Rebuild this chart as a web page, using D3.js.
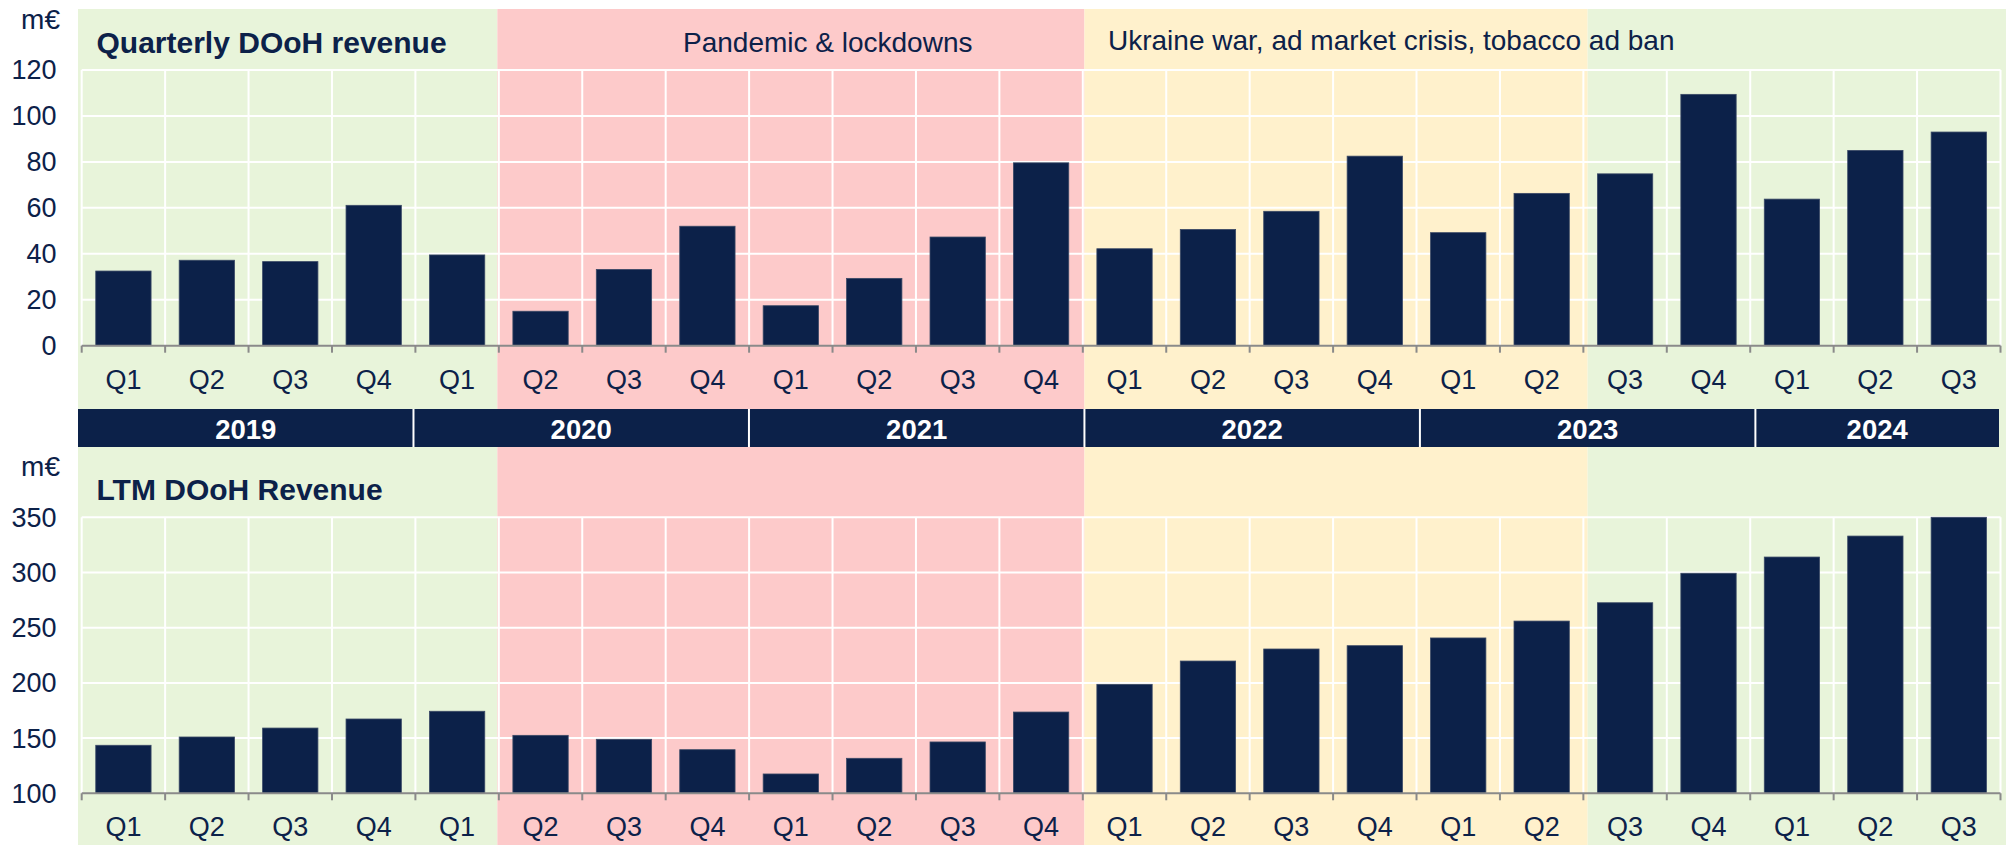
<!DOCTYPE html>
<html>
<head>
<meta charset="utf-8">
<script src="https://cdn.jsdelivr.net/npm/d3@7"></script>
<style>
  html, body { margin: 0; padding: 0; background: #ffffff; }
  svg { display: block; font-family: "Liberation Sans", Arial, sans-serif; }
</style>
</head>
<body>
<svg id="chart" width="2006" height="845"></svg>
<script>
// ---------------- DATA ----------------
const years = ["2019", "2020", "2021", "2022", "2023", "2024"];
const quartersPerYear = [4, 4, 4, 4, 4, 3];
const quarterLabels = ["Q1","Q2","Q3","Q4","Q1","Q2","Q3","Q4","Q1","Q2","Q3","Q4",
                       "Q1","Q2","Q3","Q4","Q1","Q2","Q3","Q4","Q1","Q2","Q3"];
const quarterlyRevenue = [32.5, 37.2, 36.6, 61.1, 39.5, 15.0, 33.2, 52.0, 17.4, 29.3, 47.3, 79.6,
                          42.2, 50.6, 58.5, 82.5, 49.2, 66.3, 74.8, 109.4, 63.8, 85.0, 93.0];
const ltmRevenue = [143.5, 151.0, 159.1, 167.3, 174.3, 152.5, 148.9, 139.5, 117.5, 131.7, 146.5, 173.6,
                    198.7, 219.8, 230.7, 233.7, 240.7, 256.0, 272.6, 299.3, 314.0, 333.0, 350.0];
const quarterlyTicks = [0, 20, 40, 60, 80, 100, 120];
const ltmTicks = [100, 150, 200, 250, 300, 350];
const periodNames = ["normal", "pandemic", "crisis", "recovery"];
const periodBounds = [0, 5, 12, 18, 23];   // quarter index boundaries
const periodLabels = ["", "Pandemic & lockdowns", "Ukraine war, ad market crisis, tobacco ad ban", ""];

// ---------------- STYLE ----------------
const navy = "#0c2149";
const periodColors = { normal: "#e8f4da", pandemic: "#fdcaca", crisis: "#fff1cc", recovery: "#e8f4da" };

const svg = d3.select("#chart");
const keys = quarterLabels.map((q, i) => i);

// Main band scale for bars
const x = d3.scaleBand().domain(keys).range([81.7, 2000.5]).paddingInner(0.337).paddingOuter(0.337 / 2);
const step = x.step();
const x0 = x.range()[0];
const boundary = i => x0 + i * step;

// Scale for background periods and year bar
const xs = d3.scaleLinear().domain([0, 23]).range([78, 2007]);

// ---------------- BACKGROUNDS ----------------
const periods = periodNames.map((n, i) => ({ name: n, a: periodBounds[i], b: periodBounds[i + 1], label: periodLabels[i] }));
svg.append("g").selectAll("rect").data(periods).join("rect")
  .attr("x", d => xs(d.a))
  .attr("width", d => Math.min(xs(d.b), 2006) - xs(d.a))
  .attr("y", 9).attr("height", 845 - 9)
  .attr("fill", d => periodColors[d.name]);

// Period labels
svg.append("text").attr("x", 683).attr("y", 52)
  .attr("font-size", 28).attr("fill", navy).text(periodLabels[1]);
svg.append("text").attr("x", 1108).attr("y", 49.5)
  .attr("font-size", 28).attr("fill", navy).text(periodLabels[2]);

// ---------------- PANEL FUNCTION ----------------
function panel(values, domain, ticks, yTop, yBase, title, titleY, unitY) {
  const y = d3.scaleLinear().domain(domain).range([yBase, yTop]);
  const g = svg.append("g");
  const right = boundary(23);

  // horizontal gridlines
  g.append("g").selectAll("line").data(ticks.filter(t => t !== domain[0])).join("line")
    .attr("x1", x0).attr("x2", right)
    .attr("y1", d => y(d)).attr("y2", d => y(d))
    .attr("stroke", "#ffffff").attr("stroke-width", 2);

  // vertical gridlines
  g.append("g").selectAll("line").data(d3.range(24)).join("line")
    .attr("x1", d => boundary(d)).attr("x2", d => boundary(d))
    .attr("y1", yTop).attr("y2", yBase)
    .attr("stroke", "#ffffff").attr("stroke-width", 2);

  // bars
  g.append("g").selectAll("rect").data(values).join("rect")
    .attr("x", (d, i) => x(i))
    .attr("width", x.bandwidth())
    .attr("y", d => y(d))
    .attr("height", d => y(domain[0]) - y(d))
    .attr("fill", navy)
    .attr("stroke", "#3a4966").attr("stroke-width", 0.8);

  // axis baseline + ticks
  g.append("line").attr("x1", x0).attr("x2", right).attr("y1", yBase).attr("y2", yBase)
    .attr("stroke", "#8a8a8a").attr("stroke-width", 2);
  g.append("g").selectAll("line").data(d3.range(24)).join("line")
    .attr("x1", d => boundary(d)).attr("x2", d => boundary(d))
    .attr("y1", yBase).attr("y2", yBase + 7)
    .attr("stroke", "#8a8a8a").attr("stroke-width", 2);

  // y tick labels
  g.append("g").selectAll("text").data(ticks).join("text")
    .attr("x", 56.5).attr("y", d => y(d)).attr("dy", "0.35em")
    .attr("text-anchor", "end").attr("font-size", 27).attr("fill", navy)
    .text(d => d);

  // quarter labels
  g.append("g").selectAll("text").data(quarterLabels).join("text")
    .attr("x", (d, i) => x(i) + x.bandwidth() / 2).attr("y", yBase + 43)
    .attr("text-anchor", "middle").attr("font-size", 27).attr("fill", navy)
    .text(d => d);

  // unit + title
  g.append("text").attr("x", 60).attr("y", unitY).attr("text-anchor", "end")
    .attr("font-size", 28).attr("fill", navy).text("m€");
  g.append("text").attr("x", 96.5).attr("y", titleY)
    .attr("font-size", 30).attr("font-weight", "bold").attr("fill", navy).text(title);
}

panel(quarterlyRevenue, [0, 120], quarterlyTicks, 70, 345.7, "Quarterly DOoH revenue", 53.3, 29.3);
panel(ltmRevenue, [100, 350], ltmTicks, 517.3, 793.3, "LTM DOoH Revenue", 500, 475.7);

// ---------------- YEAR BAR ----------------
const yearStarts = quartersPerYear.map((n, i) => d3.sum(quartersPerYear.slice(0, i)));
const yearData = years.map((yr, i) => ({ year: yr, a: yearStarts[i], b: yearStarts[i] + quartersPerYear[i] }));
const barEnd = boundary(23) - 1.5;
const yb = svg.append("g");
yb.append("rect").attr("x", xs(0)).attr("width", barEnd - xs(0))
  .attr("y", 409).attr("height", 38).attr("fill", navy);
yb.selectAll("line").data(yearData.slice(1)).join("line")
  .attr("x1", d => xs(d.a)).attr("x2", d => xs(d.a))
  .attr("y1", 409).attr("y2", 447)
  .attr("stroke", "#ffffff").attr("stroke-width", 2);
yb.selectAll("text").data(yearData).join("text")
  .attr("x", d => (xs(d.a) + Math.min(xs(d.b), barEnd)) / 2)
  .attr("y", 439)
  .attr("text-anchor", "middle").attr("font-size", 27.5).attr("font-weight", "bold")
  .attr("fill", "#ffffff").text(d => d.year);
</script>
</body>
</html>
